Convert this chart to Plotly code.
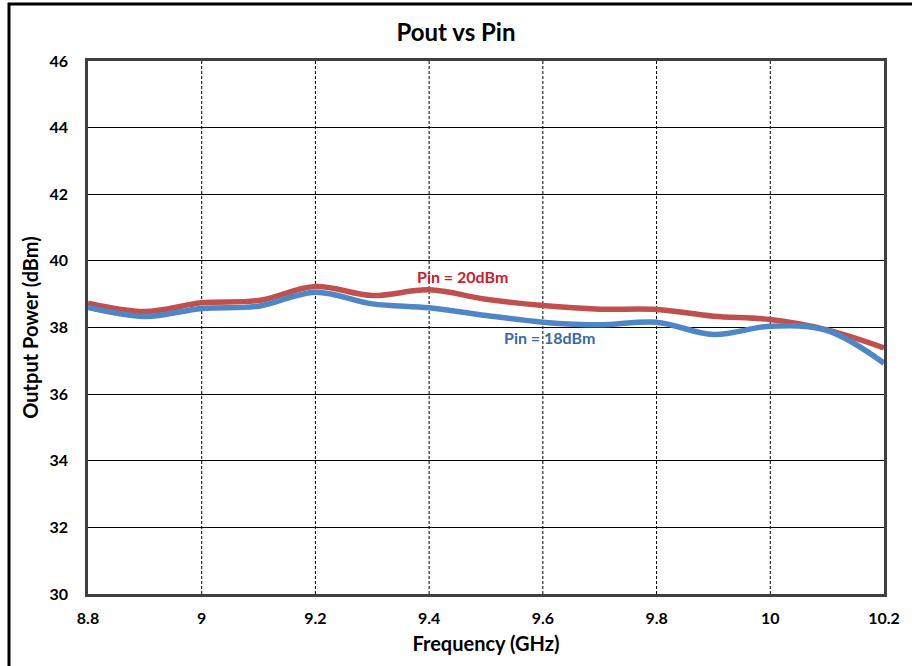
import plotly.graph_objects as go

freq = [8.8, 8.9, 9.0, 9.1, 9.2, 9.3, 9.4, 9.5, 9.6, 9.7, 9.8, 9.9, 10.0, 10.1, 10.2]
pin20 = [38.73, 38.48, 38.74, 38.81, 39.23, 38.96, 39.13, 38.85, 38.66, 38.55, 38.54, 38.34, 38.24, 37.93, 37.39]
pin18 = [38.60, 38.33, 38.57, 38.64, 39.06, 38.71, 38.59, 38.36, 38.16, 38.08, 38.16, 37.79, 38.04, 37.91, 36.93]

x_ticks = [8.8, 9.0, 9.2, 9.4, 9.6, 9.8, 10.0, 10.2]
x_labels = ["8.8", "9", "9.2", "9.4", "9.6", "9.8", "10", "10.2"]
y_ticks = [30, 32, 34, 36, 38, 40, 42, 44, 46]

FONT = "Lato, Open Sans, sans-serif"

fig = go.Figure()
fig.add_trace(go.Scatter(x=freq, y=pin20, mode="lines", name="Pin = 20dBm",
                         line=dict(color="#C0504D", width=5.5, shape="spline", smoothing=1.0)))
fig.add_trace(go.Scatter(x=freq, y=pin18, mode="lines", name="Pin = 18dBm",
                         line=dict(color="#4F86C6", width=5.5, shape="spline", smoothing=1.0)))

# vertical dashed grid lines
for xv in x_ticks[1:-1]:
    fig.add_shape(type="line", xref="x", yref="paper", x0=xv, x1=xv, y0=0, y1=1,
                  line=dict(color="black", width=1, dash="3px,2px"), layer="below")

fig.add_annotation(x=9.458, y=39.53, text="<b>Pin = 20dBm</b>", showarrow=False,
                   font=dict(family=FONT, size=16, color="#C8202A"))
fig.add_annotation(x=9.611, y=37.70, text="<b>Pin = 18dBm</b>", showarrow=False,
                   font=dict(family=FONT, size=16, color="#3A68A8"))

# outer chart border
fig.add_shape(type="rect", xref="paper", yref="paper",
              x0=(9 - 88) / 796, x1=(930 - 88) / 796,
              y0=(594 - 690) / 533, y1=1 + (61 - 4) / 533,
              line=dict(color="black", width=3))

fig.update_layout(
    width=912, height=666,
    margin=dict(l=88, r=28, t=61, b=72),
    paper_bgcolor="white", plot_bgcolor="white",
    showlegend=False,
    title=dict(text="<b>Pout vs Pin</b>", x=0.5, xanchor="center", y=1 - 33 / 666, yanchor="middle",
               font=dict(family=FONT, size=24, color="black")),
    xaxis=dict(range=[8.8, 10.2], tickvals=x_ticks, ticktext=x_labels, showgrid=False,
               showline=True, linecolor="#404040", linewidth=2.5, mirror=True, ticks="",
               ticklabelstandoff=8,
               tickfont=dict(family=FONT, size=16, color="black", weight="bold"),
               title=dict(text="<b>Frequency (GHz)</b>", font=dict(family=FONT, size=20, color="black"), standoff=12),
               zeroline=False),
    yaxis=dict(range=[30, 46], tickvals=y_ticks, showgrid=True, gridcolor="black", gridwidth=1,
               showline=True, linecolor="#404040", linewidth=2.5, mirror=True, ticks="",
               ticklabelstandoff=14,
               tickfont=dict(family=FONT, size=16, color="black", weight="bold"),
               title=dict(text="<b>Output Power (dBm)</b>", font=dict(family=FONT, size=20, color="black"), standoff=6),
               zeroline=False),
)

fig.write_html("out.html", config={"displayModeBar": False},
               post_script="document.body.style.margin='0';document.body.style.overflow='hidden';")
